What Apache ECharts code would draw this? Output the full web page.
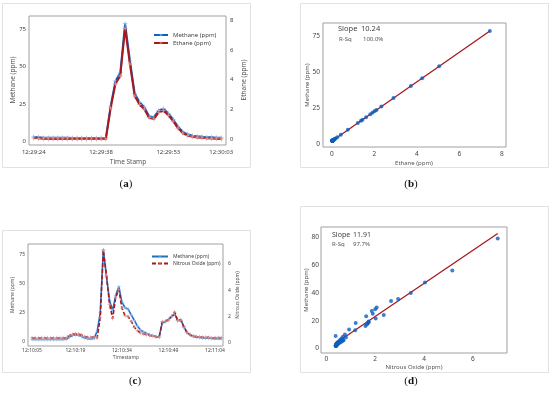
<!DOCTYPE html>
<html><head><meta charset="utf-8">
<script src="https://cdn.jsdelivr.net/npm/echarts@6/dist/echarts.min.js"></script>
<style>html,body{margin:0;padding:0;background:#fff}#c{width:550px;height:397px}</style>
</head><body><div id="c"></div>
<script>
// ---- Panel (a): time series methane / ethane ----
const aTickIdx = [0, 14, 28, 39];
const aTickLabels = ['12:29:24', '12:29:38', '12:29:53', '12:30:03'];
const methaneA = [3.2, 3.0, 2.7, 2.6, 2.6, 2.6, 2.6, 2.6, 2.5, 2.5, 2.5, 2.5, 2.5, 2.5, 2.5, 2.6,
  23.8, 40.4, 45.8, 78.5, 54.0, 32.0, 26.2, 23.0, 17.0, 16.3, 20.8, 22.0, 18.8, 14.8, 10.0, 6.6,
  4.9, 4.0, 3.6, 3.3, 3.0, 2.9, 2.7, 2.6];
const ethaneA = [0.09, 0.07, 0.04, 0.03, 0.03, 0.03, 0.03, 0.03, 0.02, 0.02, 0.02, 0.02, 0.02, 0.02, 0.02, 0.03,
  2.10, 3.72, 4.25, 7.44, 5.05, 2.90, 2.33, 2.02, 1.44, 1.37, 1.81, 1.92, 1.61, 1.22, 0.75, 0.42,
  0.25, 0.17, 0.13, 0.10, 0.07, 0.06, 0.04, 0.03];
const aLeftTicks = [0, 25, 50, 75];
const aRightTicks = [0, 2, 4, 6, 8];

// ---- Panel (b): regression methane vs ethane ----
const bXTicks = [0, 2, 4, 6, 8];
const bYTicks = [0, 25, 50, 75];
const slopeB = 10.24, interceptB = 2.3;
const bSlopeText = '10.24', bRsqText = '100.0%';

// ---- Panel (c): time series methane / nitrous oxide ----
const cTickIdx = [0, 14, 29, 44, 59];
const cTickLabels = ['12:10:05', '12:10:19', '12:10:34', '12:10:49', '12:11:04'];
const methaneC = [2.2, 2.2, 2.1, 2.2, 2.1, 2.2, 2.1, 2.2, 2.1, 2.2, 2.2, 2.3,
  4.2, 5.6, 6.0, 5.8, 4.8, 3.4, 2.8, 2.7, 3.0,
  9.1, 25.0, 79.3, 56.2, 35.8, 27.1, 40.1, 47.6, 34.3, 29.5, 28.3, 23.3, 18.5, 13.7, 10.2, 8.6, 7.3, 6.2, 5.3, 4.6,
  4.2, 16.3, 17.3, 19.5, 21.6, 24.2, 18.3, 19.0, 13.2, 8.0, 6.0, 4.8, 4.2, 3.8, 3.5, 3.3, 3.2, 3.0, 2.9, 2.9, 2.8];
const n2oC = [0.40, 0.40, 0.38, 0.40, 0.39, 0.40, 0.38, 0.40, 0.39, 0.40, 0.39, 0.40,
  0.55, 0.66, 0.70, 0.68, 0.60, 0.48, 0.44, 0.43, 0.45,
  0.38, 1.90, 7.02, 5.16, 2.94, 1.86, 3.46, 4.04, 2.65, 2.06, 2.00, 1.63, 1.20, 0.93, 0.76, 0.68, 0.62, 0.56, 0.52, 0.47,
  0.44, 1.60, 1.66, 1.73, 2.02, 2.35, 1.70, 1.73, 1.18, 0.80, 0.62, 0.52, 0.48, 0.45, 0.43, 0.42, 0.42, 0.40, 0.40, 0.41, 0.40];
const cLeftTicks = [0, 25, 50, 75];
const cRightTicks = [0, 2, 4, 6];

// ---- Panel (d): regression methane vs nitrous oxide ----
const dXTicks = [0, 2, 4, 6];
const dYTicks = [0, 20, 40, 60, 80];
const slopeD = 11.91, interceptD = -0.7;
const dSlopeText = '11.91', dRsqText = '97.7%';

const FONT = 'Noto Sans';
const TXT = '#444';
const BLUE = '#0d5fc0', RED = '#a8181c';
const BLUE_MK = '#8db8e8', RED_MK = '#d88c8c';
const STAR = 'path://M5,0 L6,4 L10,5 L6,6 L5,10 L4,6 L0,5 L4,4 Z';

function axis(grid, min, max, ticks, size, margin, fmt, pos) {
  const o = {
    type: 'value', gridIndex: grid, min: min, max: max,
    axisLine: { show: false }, axisTick: { show: false, customValues: ticks },
    splitLine: { show: false },
    axisLabel: { customValues: ticks, fontSize: size, color: TXT, fontFamily: FONT, margin: margin }
  };
  if (fmt) o.axisLabel.formatter = fmt;
  if (pos) o.position = pos;
  return o;
}
const fmtA = v => aTickLabels[aTickIdx.indexOf(Math.round(v))] || '';
const fmtC = v => cTickLabels[cTickIdx.indexOf(Math.round(v))] || '';

function regLine(xs, slope, icpt) {
  const lo = Math.min(...xs), hi = Math.max(...xs);
  return [[lo, slope * lo + icpt], [hi, slope * hi + icpt]];
}

function txt(x, y, s, size, opt) {
  return Object.assign({ type: 'text', x: x, y: y, style: Object.assign({ text: s, fontSize: size, fontFamily: FONT, fill: '#555', align: 'center', verticalAlign: 'middle' }, opt && opt.style || {}) }, opt && opt.el || {});
}
function vtxt(x, y, s, size) {
  return { type: 'text', x: x, y: y, rotation: Math.PI / 2, style: { text: s, fontSize: size, fontFamily: FONT, fill: '#555', align: 'center', verticalAlign: 'middle' } };
}
function frame(x, y, w, h) {
  return { type: 'rect', shape: { x: x + 0.5, y: y + 0.5, width: w, height: h }, style: { fill: 'none', stroke: '#e2e2e2', lineWidth: 1 }, z: -1 };
}
function caption(x, y, letter) {
  return { type: 'text', x: x, y: y, style: { text: '{n|(}{b|' + letter + '}{n|)}', align: 'center', verticalAlign: 'middle',
    rich: { n: { fontFamily: 'Liberation Serif', fontSize: 11, fill: '#111' }, b: { fontFamily: 'Liberation Serif', fontSize: 11, fontWeight: 'bold', fill: '#111' } } } };
}

const gridStyle = { show: true, borderColor: '#a0a0a0', borderWidth: 1, backgroundColor: 'transparent' };

const option = {
  backgroundColor: '#fff',
  animation: false,
  grid: [
    Object.assign({ left: 29, top: 16, width: 197, height: 129 }, gridStyle),
    Object.assign({ left: 323, top: 23, width: 183, height: 124 }, gridStyle),
    Object.assign({ left: 28, top: 244, width: 195, height: 102 }, gridStyle),
    Object.assign({ left: 321, top: 227, width: 186, height: 126 }, gridStyle)
  ],
  xAxis: [
    axis(0, -1, 40, aTickIdx, 6, 4, fmtA),
    axis(1, -0.42, 8.2, bXTicks, 6.5, 4),
    axis(2, -1.3, 61.6, cTickIdx, 5, 2, fmtC),
    axis(3, -0.22, 7.4, dXTicks, 6.5, 3)
  ],
  yAxis: [
    axis(0, -2.2, 83.6, aLeftTicks, 6, 3),
    axis(0, -0.38, 8.27, aRightTicks, 6, 4, null, 'right'),
    axis(1, -1.87, 84, bYTicks, 6.5, 3),
    axis(2, -3.46, 84.3, cLeftTicks, 5, 3),
    axis(2, -0.23, 7.5, cRightTicks, 5, 5, null, 'right'),
    axis(3, -3.2, 87.6, dYTicks, 6.5, 2)
  ],
  legend: [
    { orient: 'vertical', left: 148, top: 27, itemWidth: 14, itemHeight: 5, itemGap: 2,
      textStyle: { fontSize: 6, color: TXT, fontFamily: FONT }, data: ['Methane (ppm)', 'Ethane (ppm)'] },
    { orient: 'vertical', left: 146, top: 249, itemWidth: 16, itemHeight: 4, itemGap: 2,
      textStyle: { fontSize: 5, color: TXT, fontFamily: FONT }, data: ['Methane (ppm) ', 'Nitrous Oxide (ppm)'] }
  ],
  series: [
    { name: 'Ethane (ppm)', type: 'line', xAxisIndex: 0, yAxisIndex: 1, data: ethaneA.map((v, i) => [i, v]),
      lineStyle: { color: RED, width: 2 }, symbol: STAR, symbolSize: 6, itemStyle: { color: RED_MK }, z: 3 },
    { name: 'Methane (ppm)', type: 'line', xAxisIndex: 0, yAxisIndex: 0, data: methaneA.map((v, i) => [i, v]),
      lineStyle: { color: BLUE, width: 2 }, symbol: STAR, symbolSize: 6, itemStyle: { color: BLUE_MK }, z: 2 },
    { type: 'line', xAxisIndex: 1, yAxisIndex: 2, data: regLine(ethaneA, slopeB, interceptB), symbol: 'none',
      lineStyle: { color: RED, width: 1.3 }, z: 2 },
    { type: 'scatter', xAxisIndex: 1, yAxisIndex: 2, data: ethaneA.map((v, i) => [v, methaneA[i]]),
      symbol: 'circle', symbolSize: 4, itemStyle: { color: BLUE }, z: 3 },
    { name: 'Methane (ppm) ', type: 'line', xAxisIndex: 2, yAxisIndex: 3, data: methaneC.map((v, i) => [i, v]),
      lineStyle: { color: '#1f6fc6', width: 1.6 }, symbol: STAR, symbolSize: 5, itemStyle: { color: BLUE_MK }, z: 2 },
    { name: 'Nitrous Oxide (ppm)', type: 'line', xAxisIndex: 2, yAxisIndex: 4, data: n2oC.map((v, i) => [i, v]),
      lineStyle: { color: RED, width: 1.6, type: [4, 2] }, symbol: STAR, symbolSize: 5, itemStyle: { color: RED_MK }, z: 3 },
    { type: 'line', xAxisIndex: 3, yAxisIndex: 5, data: regLine(n2oC, slopeD, interceptD), symbol: 'none',
      lineStyle: { color: RED, width: 1.3 }, z: 2 },
    { type: 'scatter', xAxisIndex: 3, yAxisIndex: 5, data: n2oC.map((v, i) => [v, methaneC[i]]),
      symbol: 'circle', symbolSize: 4, itemStyle: { color: BLUE }, z: 3 }
  ],
  graphic: [
    frame(2, 3, 248, 164), frame(300, 3, 248, 164), frame(2, 230, 248, 142), frame(300, 206, 248, 166),
    vtxt(13, 80, 'Methane (ppm)', 6.5), vtxt(244, 80, 'Ethane (ppm)', 6.5), txt(128, 162, 'Time Stamp', 6.5),
    vtxt(307, 85, 'Methane (ppm)', 6), txt(414, 163, 'Ethane (ppm)', 6),
    txt(338, 29, 'Slope', 7.5, { style: { align: 'left', fill: '#444' } }), txt(361, 29, bSlopeText, 7.5, { style: { align: 'left', fill: '#444' } }),
    txt(339, 39, 'R-Sq', 6, { style: { align: 'left', fill: '#555' } }), txt(363, 39, bRsqText, 6, { style: { align: 'left', fill: '#555' } }),
    vtxt(13, 295, 'Methane (ppm)', 5), vtxt(238, 295, 'Nitrous Oxide (ppm)', 5), txt(126, 358, 'Timestamp', 5),
    vtxt(306, 290, 'Methane (ppm)', 6), txt(414, 367, 'Nitrous Oxide (ppm)', 6),
    txt(332, 235, 'Slope', 7, { style: { align: 'left', fill: '#444' } }), txt(353, 235, dSlopeText, 7, { style: { align: 'left', fill: '#444' } }),
    txt(332, 244, 'R-Sq', 6, { style: { align: 'left', fill: '#555' } }), txt(353, 244, dRsqText, 6, { style: { align: 'left', fill: '#555' } }),
    caption(126, 184, 'a'), caption(411, 184, 'b'), caption(135, 381, 'c'), caption(411, 381, 'd')
  ]
};
const chart = echarts.init(document.getElementById('c'));
chart.setOption(option);
</script></body></html>
